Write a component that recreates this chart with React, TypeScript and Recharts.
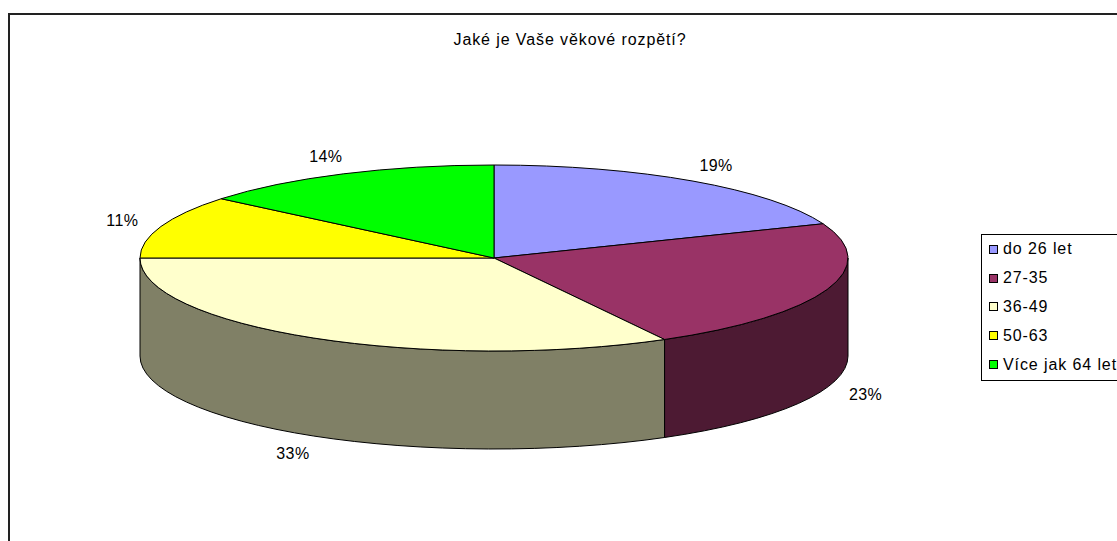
import React from 'react';
import { PieChart, Pie, Cell, Legend } from 'recharts';

const title = 'Jaké je Vaše věkové rozpětí?';
const categories = ['do 26 let', '27-35', '36-49', '50-63', 'Více jak 64 let'];
const shares = [19, 23, 33, 11, 14];
const colors = ['#9999FF', '#993366', '#FFFFCC', '#FFFF00', '#00FF00'];
const sideColors = ['#4D4D80', '#4D1A33', '#808066', '#808000', '#008000'];

const data = categories.map((name, i) => ({ name, value: shares[i], side: sideColors[i] }));

const RX = 354;
const RY_RATIO = 93 / 354;
const DEPTH_RATIO = 98 / 354;
const RAD = Math.PI / 180;
const FONT = '"Liberation Sans", Arial, sans-serif';

const pt = (cx: number, cy: number, rx: number, ry: number, a: number) => [
  cx + rx * Math.cos(a * RAD),
  cy - ry * Math.sin(a * RAD),
];

const Slice3D = (props: any) => {
  const { cx, cy, outerRadius, startAngle, endAngle, fill, payload } = props;
  const rx = outerRadius;
  const ry = outerRadius * RY_RATIO;
  const depth = outerRadius * DEPTH_RATIO;
  const s = Math.max(startAngle, endAngle);
  const e = Math.min(startAngle, endAngle);
  const [x1, y1] = pt(cx, cy, rx, ry, s);
  const [x2, y2] = pt(cx, cy, rx, ry, e);
  const large = s - e > 180 ? 1 : 0;
  const top = `M${cx},${cy} L${x1},${y1} A${rx},${ry} 0 ${large} 1 ${x2},${y2} Z`;
  const a1 = Math.min(s, 0);
  const a2 = Math.max(e, -180);
  let side: string | null = null;
  if (a1 > a2) {
    const [sx1, sy1] = pt(cx, cy, rx, ry, a1);
    const [sx2, sy2] = pt(cx, cy, rx, ry, a2);
    side = `M${sx1},${sy1} A${rx},${ry} 0 0 1 ${sx2},${sy2} L${sx2},${sy2 + depth} A${rx},${ry} 0 0 0 ${sx1},${sy1 + depth} Z`;
  }
  const sideFill = (payload && (payload.side || (payload.payload && payload.payload.side))) || '#666';
  return (
    <g>
      {side && <path d={side} fill={sideFill} stroke="#000" strokeWidth={1} strokeLinejoin="round" />}
      <path d={top} fill={fill} stroke="#000" strokeWidth={1} strokeLinejoin="round" />
    </g>
  );
};

const renderLabel = (props: any) => {
  const { cx, cy, midAngle, outerRadius, value } = props;
  const rxL = outerRadius * (395 / 354);
  const ryL = outerRadius * (112 / 354);
  const sn = Math.sin(midAngle * RAD);
  const x = cx + rxL * Math.cos(midAngle * RAD);
  let y = cy - ryL * sn;
  if (sn < 0) y += outerRadius * (99 / 354);
  return (
    <text x={x} y={y} textAnchor="middle" dominantBaseline="central" fill="#000"
      style={{ fontFamily: FONT, fontSize: 16, letterSpacing: 0.4 }}>
      {`${value}%`}
    </text>
  );
};

const renderLegend = (props: any) => {
  const payload = [...(props.payload || [])].sort(
    (a: any, b: any) => categories.indexOf(a.value) - categories.indexOf(b.value)
  );
  return (
    <div style={{
      border: '1px solid #000', background: '#fff', width: 150, height: 147,
      boxSizing: 'border-box', paddingTop: 0, fontFamily: FONT, fontSize: 16, letterSpacing: 0.9,
    }}>
      {payload.map((p: any, i: number) => (
        <div key={i} style={{ height: 28.8, display: 'flex', alignItems: 'center', whiteSpace: 'nowrap' }}>
          <span style={{
            display: 'inline-block', width: 7, height: 7, border: '1px solid #000',
            background: p.color, marginLeft: 7, marginRight: 5,
          }} />
          <span>{p.value}</span>
        </div>
      ))}
    </div>
  );
};

export default function App() {
  return (
    <div style={{ position: 'fixed', left: 0, top: 0, width: 1117, height: 541, overflow: 'hidden', background: '#fff' }}>
      <div style={{
        position: 'absolute', left: 8, top: 13, width: 1200, height: 600,
        borderLeft: '2px solid #222', borderTop: '2px solid #222',
      }} />
      <div style={{
        position: 'absolute', left: 370, top: 31.5, width: 400, textAlign: 'center', lineHeight: '16px',
        fontFamily: FONT, fontSize: 16, letterSpacing: 0.9, color: '#000',
      }}>{title}</div>
      <div style={{ position: 'absolute', left: 0, top: 0 }}>
        <PieChart width={1117} height={541} margin={{ top: 0, right: 0, bottom: 0, left: 0 }}>
          <Pie
            data={data}
            dataKey="value"
            nameKey="name"
            cx={494}
            cy={258}
            outerRadius={RX}
            startAngle={90}
            endAngle={-270}
            isAnimationActive={false}
            shape={Slice3D}
            activeShape={Slice3D}
            inactiveShape={Slice3D}
            label={renderLabel}
            labelLine={false}
            stroke="#000"
          >
            {data.map((d, i) => <Cell key={d.name} fill={colors[i]} />)}
          </Pie>
          <Legend
            layout="vertical"
            verticalAlign="middle"
            align="right"
            content={renderLegend}
            wrapperStyle={{ position: 'absolute', left: 981, top: 234, width: 150 }}
          />
        </PieChart>
      </div>
    </div>
  );
}
